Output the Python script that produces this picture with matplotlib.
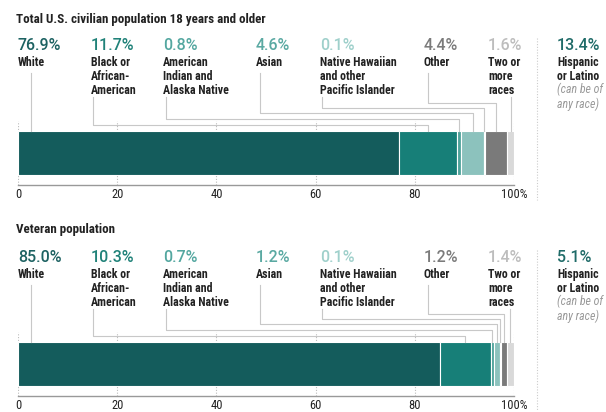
import matplotlib
matplotlib.use("Agg")
import matplotlib.pyplot as plt
from matplotlib import font_manager
from matplotlib.lines import Line2D
import numpy as np

# data
races = ["White", "Black or\nAfrican-\nAmerican", "American\nIndian and\nAlaska Native", "Asian",
         "Native Hawaiian\nand other\nPacific Islander", "Other", "Two or\nmore\nraces"]
civilian = [76.9, 11.7, 0.8, 4.6, 0.1, 4.4, 1.6]
veteran = [85.0, 10.3, 0.7, 1.2, 0.1, 1.2, 1.4]
hispanic = [13.4, 5.1]
titles = ["Total U.S. civilian population 18 years and older", "Veteran population"]
ticks = [0, 20, 40, 60, 80, 100]
tick_labels = ["0", "20", "40", "60", "80", "100%"]

bar_colors = ["#145c5c", "#177f78", "#4fa39b", "#8cc2bd", "#a8d5d0", "#7a7a7a", "#d9d9d9"]
pct_colors = ["#1d6262", "#208279", "#54a7a0", "#5aa9a2", "#9fd0cb", "#7b7b7b", "#bdbdbd"]

names = {f.name for f in font_manager.fontManager.ttflist}
narrow = next((n for n in ["Roboto Condensed", "Barlow Semi Condensed", "Archivo Narrow",
                           "Liberation Sans Narrow"] if n in names), "Liberation Sans")
numfont = "Roboto" if "Roboto" in names else "Liberation Sans"

W, H = 606, 412
fig = plt.figure(figsize=(W / 100, H / 100), dpi=100)

def fx(x):
    return x / W

def fy(y):
    return 1 - y / H

# label layout, pixels
label_x = [18, 91, 163, 256, 320, 424, 488]
lead_x = [31, 93, 166, 260, 322, 428, None]
lead_lvl = [None, 25, 19, 13, 8, 3, None]
n_lines = [1, 3, 3, 1, 3, 1, 3]

panels = [
    dict(vals=civilian, hisp=hispanic[0], title_y=19, pct_y=45, ax_top=121, ax_bot=185, bar_top=131, lvl0=100),
    dict(vals=veteran, hisp=hispanic[1], title_y=229, pct_y=257, ax_top=332, ax_bot=396, bar_top=342, lvl0=311),
]

for p, title in zip(panels, titles):
    ax = fig.add_axes([fx(18), fy(p["ax_bot"]), fx(514 - 18), (p["ax_bot"] - p["ax_top"]) / H])
    vals = np.array(p["vals"])
    lefts = np.concatenate([[0], np.cumsum(vals)[:-1]])
    ax.barh(0.5, vals, left=lefts, height=0.69, color=bar_colors, edgecolor="white", linewidth=0.8, zorder=3)
    ax.set_xlim(0, 100)
    ax.set_ylim(0, 1)
    ax.set_yticks([])
    ax.set_xticks(ticks)
    ax.set_xticklabels(tick_labels, fontsize=9, color="#222222", family=narrow)
    ax.tick_params(axis="x", length=0, pad=2)
    ax.grid(axis="x", linestyle=(0, (1, 1.5)), color="#bbbbbb", linewidth=0.8, zorder=0)
    for s in ["top", "left", "right"]:
        ax.spines[s].set_visible(False)
    ax.spines["bottom"].set_color("#999999")
    ax.spines["bottom"].set_linewidth(1)
    ax.patch.set_alpha(0)

    fig.text(fx(16), fy(p["title_y"]), title, fontsize=9.4, fontweight="bold", family=narrow,
             color="#222222", va="center", ha="left")

    centers = lefts + vals / 2
    for i, name in enumerate(races):
        fig.text(fx(label_x[i]), fy(p["pct_y"]), f"{vals[i]:.1f}%", fontsize=11.5, color=pct_colors[i],
                 family=numfont, fontweight="medium", va="center", ha="left")
        fig.text(fx(label_x[i]), fy(p["pct_y"] + 11), name, fontsize=8.6, fontweight="bold", family=narrow,
                 color="#222222", va="top", ha="left", linespacing=1.1)
        cx = fig.transFigure.inverted().transform(ax.transData.transform((centers[i], 0)))[0]
        y_start = p["pct_y"] + (28 if n_lines[i] == 1 else 52)
        y_bar = p["bar_top"]
        if lead_x[i] is None:
            xs, ys = [cx, cx], [fy(y_start), fy(y_bar)]
        elif lead_lvl[i] is None:
            xs, ys = [fx(lead_x[i])] * 2, [fy(y_start), fy(y_bar)]
        else:
            yl = p["lvl0"] + lead_lvl[i]
            xs = [fx(lead_x[i]), fx(lead_x[i]), cx, cx]
            ys = [fy(y_start), fy(yl), fy(yl), fy(y_bar)]
        fig.add_artist(Line2D(xs, ys, color="#c8c8c8", linewidth=0.8, transform=fig.transFigure, zorder=1))

    # hispanic column
    fig.text(fx(557), fy(p["pct_y"]), f"{p['hisp']:.1f}%", fontsize=11.5, color="#1f6b68",
             family=numfont, fontweight="medium", va="center", ha="left")
    fig.text(fx(557), fy(p["pct_y"] + 11), "Hispanic\nor Latino", fontsize=8.6, fontweight="bold",
             family=narrow, color="#222222", va="top", ha="left", linespacing=1.1)
    fig.text(fx(557), fy(p["pct_y"] + 38), "(can be of\nany race)", fontsize=8.6, style="italic",
             family=narrow, color="#999999", va="top", ha="left", linespacing=1.1)
    fig.add_artist(Line2D([fx(537), fx(537)], [fy(p["pct_y"] - 7), fy(p["ax_bot"] + 15)],
                          color="#cccccc", linewidth=0.8, linestyle=(0, (1, 1.5)), transform=fig.transFigure))

fig.savefig("out.png", dpi=100)
